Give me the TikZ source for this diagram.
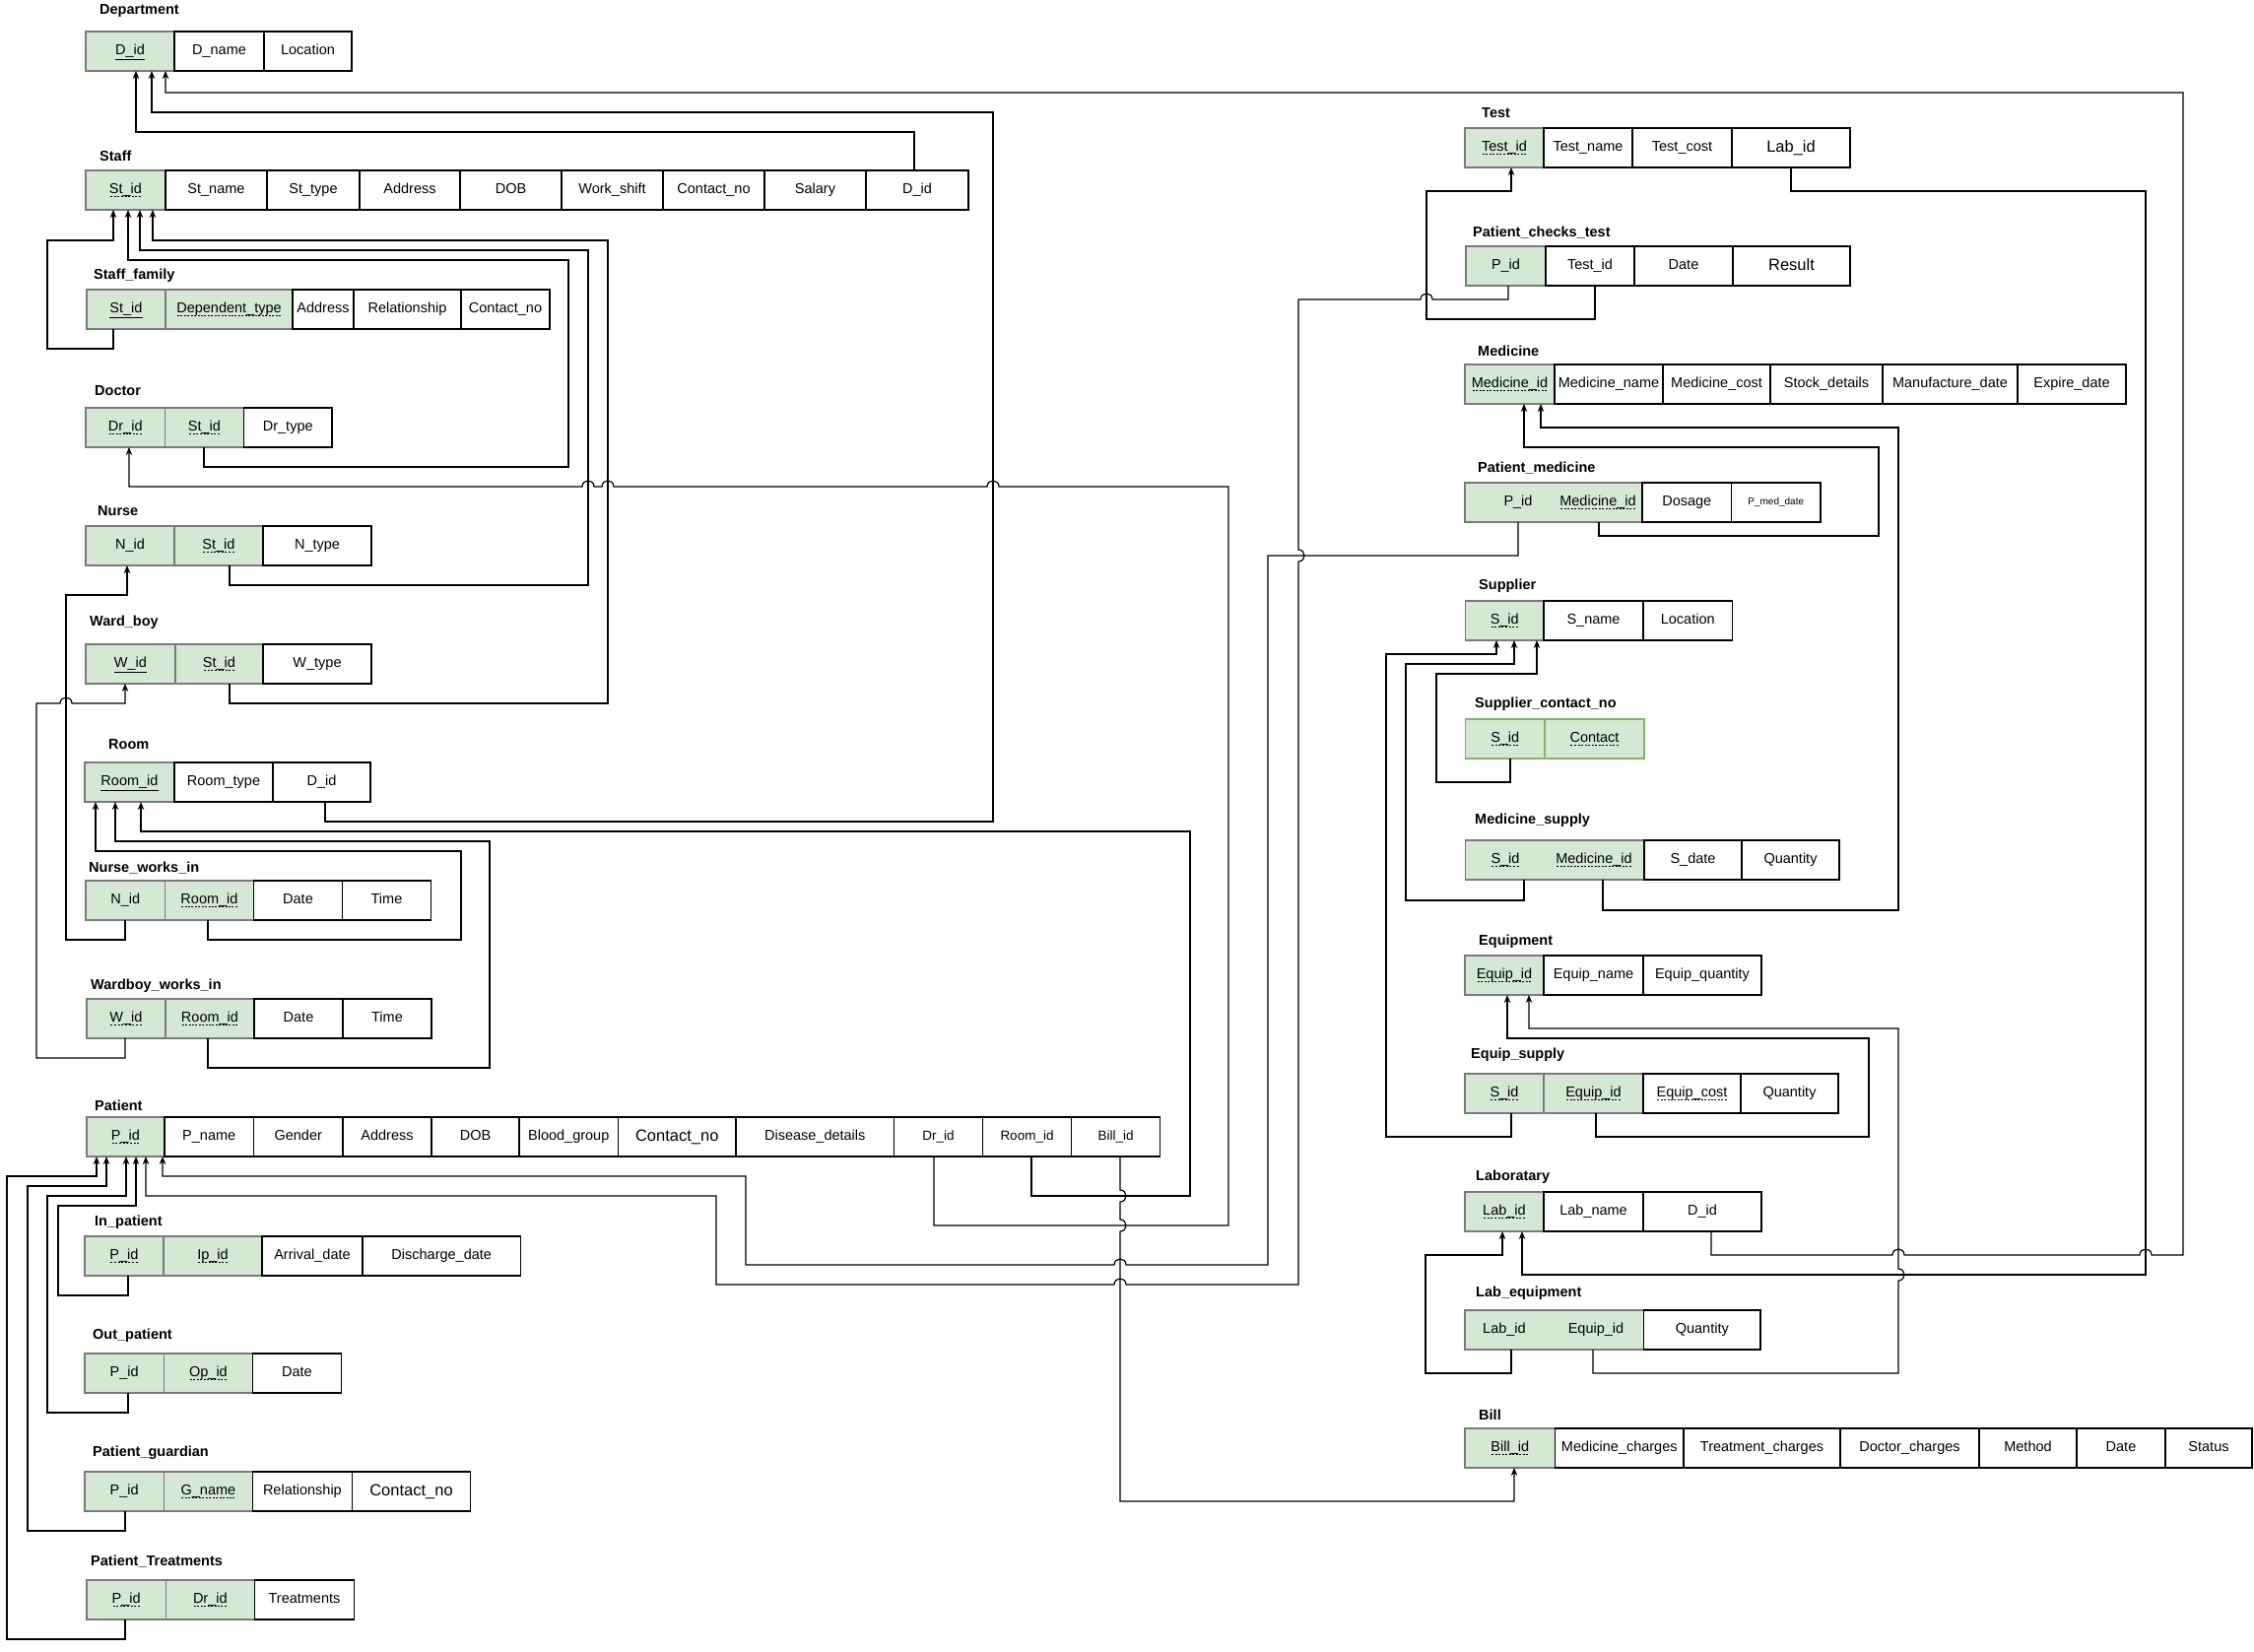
\documentclass[tikz,border=0pt]{standalone}
\usepackage{fontspec}
\setmainfont{Liberation Sans}
\usetikzlibrary{arrows.meta}

\definecolor{keygreen}{HTML}{D5E8D4}
\definecolor{keyline}{HTML}{7A7A7A}
\definecolor{keyedge}{HTML}{82B366}

% dashed underline for key attributes
\newsavebox\dkbox
\newcommand\dk[1]{\sbox\dkbox{#1}\rlap{\usebox\dkbox}%
  \raisebox{-2.6pt}{\hbox to \wd\dkbox{\xleaders\hbox{\kern0.7pt\rule{2pt}{0.7pt}\kern0.7pt}\hfill}}}

% one table row: prefix, top y, list of  left/right/text/style
\newcommand\tablerow[3]{%
  \foreach \xa/\xb/\txt/\sty [count=\i] in {#3}{%
    \node[\sty, minimum width={(\xb-\xa)*1pt}] (#1\i) at (\xa,#2) {\txt};
  }}

% line jumps: horizontal (left-to-right / right-to-left) and vertical (downwards / upwards)
\newcommand\hjr[2]{-- (#1-6,#2) .. controls (#1-6,#2-8) and (#1+6,#2-8) .. (#1+6,#2)}
\newcommand\hjl[2]{-- (#1+6,#2) .. controls (#1+6,#2-8) and (#1-6,#2-8) .. (#1-6,#2)}
\newcommand\vjd[2]{-- (#1,#2-6) .. controls (#1+8,#2-6) and (#1+8,#2+6) .. (#1,#2+6)}
\newcommand\vju[2]{-- (#1,#2+6) .. controls (#1+8,#2+6) and (#1+8,#2-6) .. (#1,#2-6)}

\tikzset{
  cell/.style={draw, line width=1.1pt, inner sep=0pt, outer sep=0pt,
    minimum height=40pt, anchor=north west, text height=10.5pt, text depth=3pt,
    font=\fontsize{14.5}{17}\selectfont},
  gc/.style={cell, fill=keygreen, draw=keyline},
  gcg/.style={cell, fill=keygreen, draw=keyedge},
  wc/.style={cell, fill=white, draw=black},
  wcb/.style={wc, font=\fontsize{16.5}{19}\selectfont, text height=12pt, text depth=3.5pt},
  wcs/.style={wc, font=\fontsize{13.5}{16}\selectfont},
  wct/.style={wc, font=\fontsize{10}{12}\selectfont, text height=7.5pt, text depth=2pt},
  keytext/.style={inner sep=0pt, text height=10.5pt, text depth=3pt, font=\fontsize{14.5}{17}\selectfont},
  ttl/.style={anchor=west, inner sep=0pt, font=\bfseries\fontsize{14.5}{17}\selectfont},
  fk/.style={draw=black, line width=1.2pt, line join=miter,
    -{Stealth[length=8pt,width=6.5pt,inset=2.5pt]}},
}

\begin{document}
\begin{tikzpicture}[x=1pt,y=-1pt]
\path[use as bounding box, fill=white] (0,0) rectangle (2288,1676);

% ---------------- left column ----------------
\node[ttl] (tdept) at (101,11) {Department};
\tablerow{dp}{32}{87/177/{\underline{D\_id}}/gc, 177/268/{D\_name}/wc, 268/357/Location/wc}

\node[ttl] (tstaff) at (101,158) {Staff};
\tablerow{st}{173}{87/168/{\dk{St\_id}}/gc, 168/271/{St\_name}/wc, 271/365/{St\_type}/wc,
  365/467/Address/wc, 467/570/DOB/wc, 570/673/{Work\_shift}/wc, 673/776/{Contact\_no}/wc,
  776/879/Salary/wc, 879/983/{D\_id}/wc}

\node[ttl] (tsf) at (95,280) {Staff\_family};
\tablerow{sf}{294}{88/168/{\underline{St\_id}}/gc, 168/297/{\dk{Dependent\_type}}/gc,
  297/359/Address/wc, 359/468/Relationship/wc, 468/558/{Contact\_no}/wc}

\node[ttl] (tdr) at (96,397) {Doctor};
\tablerow{dr}{414}{87/167.5/{\dk{Dr\_id}}/gc, 167.5/247.5/{\dk{St\_id}}/gc, 247.5/337/{Dr\_type}/wc}

\node[ttl] (tnu) at (99,519) {Nurse};
\tablerow{nu}{534}{87/177/{N\_id}/gc, 177/267/{\dk{St\_id}}/gc, 267/377/{N\_type}/wc}

\node[ttl] (twb) at (91,632) {Ward\_boy};
\tablerow{wb}{654}{87/178/{\underline{W\_id}}/gc, 178/267/{\dk{St\_id}}/gc, 267/377/{W\_type}/wc}

\node[ttl] (trm) at (110,756) {Room};
\tablerow{rm}{774}{86/177/{\underline{Room\_id}}/gc, 177/277/{Room\_type}/wc, 277/376/{D\_id}/wc}

\node[ttl] (tnw) at (90,881) {Nurse\_works\_in};
\tablerow{nw}{894}{87/167.5/{N\_id}/gc, 167.5/257.5/{\dk{Room\_id}}/gc, 257.5/347.5/Date/wc, 347.5/437.5/Time/wc}

\node[ttl] (tww) at (92,1001) {Wardboy\_works\_in};
\tablerow{ww}{1014}{88/168/{\dk{W\_id}}/gc, 168/258/{\dk{Room\_id}}/gc, 258/348/Date/wc, 348/438/Time/wc}

\node[ttl] (tpa) at (96,1122) {Patient};
\tablerow{pa}{1134}{88/167/{\dk{P\_id}}/gc, 167/257.5/{P\_name}/wc, 257.5/348/Gender/wc,
  348/438/Address/wc, 438/527/DOB/wc, 527/627.5/{Blood\_group}/wc, 627.5/747/{Contact\_no}/wcb,
  747/907.5/{Disease\_details}/wc, 907.5/997.5/{Dr\_id}/wcs, 997.5/1087.5/{Room\_id}/wcs,
  1087.5/1177.5/{Bill\_id}/wcs}

\node[ttl] (tip) at (96,1241) {In\_patient};
\tablerow{ip}{1255}{86/166/{\dk{P\_id}}/gc, 166/266/{\dk{Ip\_id}}/gc, 266/368/{Arrival\_date}/wc, 368/528.5/{Discharge\_date}/wc}

\node[ttl] (top) at (94,1356) {Out\_patient};
\tablerow{op}{1374}{86/166.5/{P\_id}/gc, 166.5/256.4/{\dk{Op\_id}}/gc, 256.4/346.3/Date/wc}

\node[ttl] (tpg) at (94,1475) {Patient\_guardian};
\tablerow{pg}{1494}{86/166.5/{P\_id}/gc, 166.5/256.4/{\dk{G\_name}}/gc, 256.4/357.4/Relationship/wc, 357.4/477.6/{Contact\_no}/wcb}

\node[ttl] (tpt) at (92,1585) {Patient\_Treatments};
\tablerow{pt}{1604}{88/168.4/{\dk{P\_id}}/gc, 168.4/258.3/{\dk{Dr\_id}}/gc, 258.3/359.7/Treatments/wc}

% ---------------- right column ----------------
\node[ttl] (tte) at (1504,115) {Test};
\tablerow{te}{130}{1487/1567/{\dk{Test\_id}}/gc, 1567/1657/{Test\_name}/wc, 1657/1758/{Test\_cost}/wc, 1758/1878/{Lab\_id}/wcb}

\node[ttl] (tpc) at (1495,236) {Patient\_checks\_test};
\tablerow{pc}{250}{1488/1569/{P\_id}/gc, 1569/1659/{Test\_id}/wc, 1659/1759/Date/wc, 1759/1878/Result/wcb}

\node[ttl] (tmd) at (1500,356) {Medicine};
\tablerow{md}{370}{1487/1578/{\dk{Medicine\_id}}/gc, 1578/1688/{Medicine\_name}/wc, 1688/1797/{Medicine\_cost}/wc,
  1797/1911/{Stock\_details}/wc, 1911/2048/{Manufacture\_date}/wc, 2048/2158/{Expire\_date}/wc}

\node[ttl] (tpm) at (1500,475) {Patient\_medicine};
\tablerow{pm}{490}{1487/1667/{}/gc, 1667/1757.5/Dosage/wc, 1757.5/1848/{P\_med\_date}/wct}
\node[keytext] (pmpid) at (1541,510) {P\_id};
\node[keytext] (pmmid) at (1622,510) {\dk{Medicine\_id}};

\node[ttl] (tsu) at (1501,595) {Supplier};
\tablerow{su}{610}{1487.5/1567/{\dk{S\_id}}/gc, 1567/1668/{S\_name}/wc, 1668/1758.5/Location/wc}

\node[ttl] (tsc) at (1497,715) {Supplier\_contact\_no};
\tablerow{sc}{730}{1487.5/1568/{\dk{S\_id}}/gcg, 1568/1669/{\dk{Contact}}/gcg}

\node[ttl] (tms) at (1497,833) {Medicine\_supply};
\tablerow{ms}{853}{1487.5/1669/{}/gc, 1669/1768/{S\_date}/wc, 1768/1867/Quantity/wc}
\node[keytext] (mssid) at (1528,873) {\dk{S\_id}};
\node[keytext] (msmid) at (1618,873) {\dk{Medicine\_id}};

\node[ttl] (teq) at (1501,956) {Equipment};
\tablerow{eq}{970}{1487/1567/{\dk{Equip\_id}}/gc, 1567/1668/{Equip\_name}/wc, 1668/1788/{Equip\_quantity}/wc}

\node[ttl] (tes) at (1493,1071) {Equip\_supply};
\tablerow{es}{1090}{1487/1567/{\dk{S\_id}}/gc, 1567/1668/{\dk{Equip\_id}}/gc, 1668/1767/{\dk{Equip\_cost}}/wc, 1767/1866/Quantity/wc}

\node[ttl] (tlb) at (1498,1195) {Laboratary};
\tablerow{lb}{1210}{1487/1567/{\dk{Lab\_id}}/gc, 1567/1668/{Lab\_name}/wc, 1668/1788/{D\_id}/wc}

\node[ttl] (tle) at (1498,1313) {Lab\_equipment};
\tablerow{le}{1330}{1487/1668.6/{}/gc, 1668.6/1787/Quantity/wc}
\node[keytext] (lelid) at (1527,1350) {Lab\_id};
\node[keytext] (leeid) at (1620,1350) {Equip\_id};

\node[ttl] (tbl) at (1501,1436) {Bill};
\tablerow{bl}{1450}{1487/1578.5/{\dk{Bill\_id}}/gc, 1578.5/1709/{Medicine\_charges}/wc, 1709/1868/{Treatment\_charges}/wc,
  1868/2009/{Doctor\_charges}/wc, 2009/2108/Method/wc, 2108/2198/Date/wc, 2198/2286/Status/wc}

% ---------------- foreign keys ----------------
% into Department
\draw[fk] (928,0 |- st9.north) -- (928,134) -- (138,134) -- (138,0 |- dp1.south);
\draw[fk] (330,0 |- rm3.south) -- (330,834) -- (1008,834) -- (1008,114) -- (154,114) -- (154,0 |- dp1.south);
\draw[fk] (1737,0 |- lb3.south) -- (1737,1274) \hjr{1927}{1274} \hjr{2178}{1274} -- (2216,1274)
  -- (2216,94) -- (168,94) -- (168,0 |- dp1.south);

% into Staff
\draw[fk] (115,0 |- sf1.south) -- (115,354) -- (48,354) -- (48,244) -- (115,244) -- (115,0 |- st1.south);
\draw[fk] (207,0 |- dr2.south) -- (207,474) -- (577,474) -- (577,264) -- (130,264) -- (130,0 |- st1.south);
\draw[fk] (233,0 |- nu2.south) -- (233,594) -- (597,594) -- (597,254) -- (142,254) -- (142,0 |- st1.south);
\draw[fk] (233,0 |- wb2.south) -- (233,714) -- (617,714) -- (617,244) -- (155,244) -- (155,0 |- st1.south);

% into Doctor, Nurse, Ward_boy
\draw[fk] (948,0 |- pa9.south) -- (948,1244) -- (1247,1244) -- (1247,494)
  \hjl{1008}{494} \hjl{617}{494} \hjl{597}{494} -- (131,494) -- (131,0 |- dr1.south);
\draw[fk] (127,0 |- nw1.south) -- (127,954) -- (67,954) -- (67,604) -- (129,604) -- (129,0 |- nu1.south);
\draw[fk] (127,0 |- ww1.south) -- (127,1074) -- (37,1074) -- (37,714) \hjr{67}{714} -- (127,714) -- (127,0 |- wb1.south);

% into Room
\draw[fk] (1047,0 |- pa10.south) -- (1047,1214) -- (1208,1214) -- (1208,844) -- (143,844) -- (143,0 |- rm1.south);
\draw[fk] (211,0 |- ww2.south) -- (211,1084) -- (497,1084) -- (497,854) -- (117,854) -- (117,0 |- rm1.south);
\draw[fk] (211,0 |- nw2.south) -- (211,954) -- (468,954) -- (468,864) -- (97,864) -- (97,0 |- rm1.south);

% into Patient
\draw[fk] (127,0 |- pt1.south) -- (127,1664) -- (7,1664) -- (7,1194) -- (98,1194) -- (98,0 |- pa1.south);
\draw[fk] (127,0 |- pg1.south) -- (127,1554) -- (28,1554) -- (28,1204) -- (108,1204) -- (108,0 |- pa1.south);
\draw[fk] (130,0 |- op1.south) -- (130,1434) -- (48,1434) -- (48,1214) -- (128,1214) -- (128,0 |- pa1.south);
\draw[fk] (130,0 |- ip1.south) -- (130,1315) -- (59,1315) -- (59,1224) -- (138,1224) -- (138,0 |- pa1.south);
\draw[fk] (pmpid |- pm1.south) -- (1541,564) -- (1287,564) -- (1287,1284) \hjl{1137}{1284} -- (757,1284)
  -- (757,1194) -- (165,1194) -- (165,0 |- pa1.south);
\draw[fk] (1531,0 |- pc1.south) -- (1531,304) \hjl{1448}{304} -- (1318,304) \vjd{1318}{564} -- (1318,1304)
  \hjl{1137}{1304} -- (727,1304) -- (727,1214) -- (148,1214) -- (148,0 |- pa1.south);

% into Bill
\draw[fk] (1137,0 |- pa11.south) \vjd{1137}{1214} \vjd{1137}{1244} -- (1137,1524) -- (1537,1524) -- (1537,0 |- bl1.south);

% into Test and Laboratary
\draw[fk] (1619,0 |- pc2.south) -- (1619,324) -- (1448,324) -- (1448,194) -- (1534,194) -- (1534,0 |- te1.south);
\draw[fk] (1818,0 |- te4.south) -- (1818,194) -- (2178,194) -- (2178,1294) -- (1545,1294) -- (1545,0 |- lb1.south);
\draw[fk] (1534,0 |- le1.south) -- (1534,1394) -- (1447,1394) -- (1447,1274) -- (1525,1274) -- (1525,0 |- lb1.south);

% into Medicine
\draw[fk] (1623,0 |- pm1.south) -- (1623,544) -- (1907,544) -- (1907,454) -- (1547,454) -- (1547,0 |- md1.south);
\draw[fk] (1627,0 |- ms1.south) -- (1627,924) -- (1927,924) -- (1927,434) -- (1564,434) -- (1564,0 |- md1.south);

% into Supplier
\draw[fk] (1534,0 |- es1.south) -- (1534,1154) -- (1407,1154) -- (1407,664) -- (1519,664) -- (1519,0 |- su1.south);
\draw[fk] (1547,0 |- ms1.south) -- (1547,914) -- (1427,914) -- (1427,674) -- (1537,674) -- (1537,0 |- su1.south);
\draw[fk] (1533,0 |- sc1.south) -- (1533,794) -- (1458,794) -- (1458,684) -- (1560,684) -- (1560,0 |- su1.south);

% into Equipment
\draw[fk] (1620,0 |- es2.south) -- (1620,1154) -- (1897,1154) -- (1897,1054) -- (1530,1054) -- (1530,0 |- eq1.south);
\draw[fk] (1617,0 |- le1.south) -- (1617,1394) -- (1927,1394) \vju{1927}{1294} -- (1927,1044) -- (1552,1044) -- (1552,0 |- eq1.south);

\end{tikzpicture}
\end{document}
